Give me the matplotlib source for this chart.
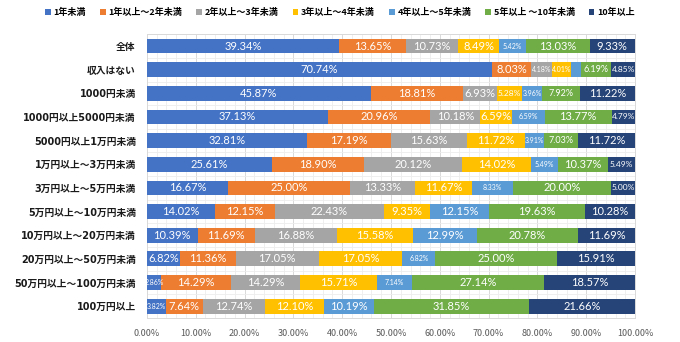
import numpy as np
import matplotlib
matplotlib.use('Agg')
import matplotlib.pyplot as plt
from matplotlib.ticker import MultipleLocator, FuncFormatter

plt.rcParams['font.family'] = ['Noto Sans CJK JP', 'DejaVu Sans']

categories = ['全体', '収入はない', '1000円未満', '1000円以上5000円未満', '5000円以上1万円未満',
              '1万円以上～3万円未満', '3万円以上～5万円未満', '5万円以上～10万円未満',
              '10万円以上～20万円未満', '20万円以上～50万円未満', '50万円以上～100万円未満', '100万円以上']
series_names = ['1年未満', '1年以上～2年未満', '2年以上～3年未満', '3年以上～4年未満',
                '4年以上～5年未満', '5年以上 ～10年未満', '10年以上']

less_1y = [39.34, 70.74, 45.87, 37.13, 32.81, 25.61, 16.67, 14.02, 10.39, 6.82, 2.86, 3.82]
y1_2 = [13.65, 8.03, 18.81, 20.96, 17.19, 18.90, 25.00, 12.15, 11.69, 11.36, 14.29, 7.64]
y2_3 = [10.73, 4.18, 6.93, 10.18, 15.63, 20.12, 13.33, 22.43, 16.88, 17.05, 14.29, 12.74]
y3_4 = [8.49, 4.01, 5.28, 6.59, 11.72, 14.02, 11.67, 9.35, 15.58, 17.05, 15.71, 12.10]
y4_5 = [5.42, 2.00, 3.96, 6.59, 3.91, 5.49, 8.33, 12.15, 12.99, 6.82, 7.14, 10.19]
y5_10 = [13.03, 6.19, 7.92, 13.77, 7.03, 10.37, 20.00, 19.63, 20.78, 25.00, 27.14, 31.85]
over_10y = [9.33, 4.85, 11.22, 4.79, 11.72, 5.49, 5.00, 10.28, 11.69, 15.91, 18.57, 21.66]

series = [less_1y, y1_2, y2_3, y3_4, y4_5, y5_10, over_10y]
colors = ['#4472C4', '#ED7D31', '#A5A5A5', '#FFC000', '#5B9BD5', '#70AD47', '#264478']

fig = plt.figure(figsize=(6.8, 3.42), dpi=100)
ax = fig.add_axes([0.216, 0.07, 0.718, 0.83])

y = np.arange(len(categories))
left = np.zeros(len(categories))
for i, (vals, name, c) in enumerate(zip(series, series_names, colors)):
    vals = np.array(vals)
    ax.barh(y, vals, left=left, height=0.63, color=c, label=name, zorder=3)
    for j, v in enumerate(vals):
        # 収入はない の4-5年は元図でラベルなし
        if i == 4 and j == 1:
            continue
        # 細いセグメントは小さい文字
        if (i == 4 and v < 10) or v < 4.5:
            fs = 5
        elif v < 6:
            fs = 6
        elif i == 5 and v < 8:
            fs = 6.5
        else:
            fs = 8
        ax.text(left[j] + v / 2, y[j], f'{v:.2f}%', ha='center', va='center',
                color='white', fontsize=fs, family=['Lato', 'DejaVu Sans'], zorder=4)
    left += vals

ax.set_xlim(0, 100)
ax.set_ylim(len(categories) - 0.5, -0.5)
ax.set_yticks(y)
ax.set_yticklabels(categories, fontsize=7, fontweight='bold', color='#1a1a1a',
                   family=['DejaVu Sans', 'Noto Sans CJK JP'])
ax.xaxis.set_major_locator(MultipleLocator(10))
ax.xaxis.set_minor_locator(MultipleLocator(2))
ax.yaxis.set_minor_locator(MultipleLocator(0.25))
ax.xaxis.set_major_formatter(FuncFormatter(lambda v, p: f'{v:.2f}%'))
ax.tick_params(axis='x', labelsize=6.5, colors='#595959', length=0, pad=8)
ax.tick_params(axis='y', length=0, pad=8, which='both')
ax.tick_params(axis='x', which='minor', length=0)
ax.grid(which='major', color='#D9D9D9', linewidth=0.7, zorder=0)
ax.grid(which='minor', color='#EDEDED', linewidth=0.6, zorder=0)
for s in ax.spines.values():
    s.set_color('#D9D9D9')
    s.set_linewidth(0.7)

leg = fig.legend(loc='upper center', bbox_to_anchor=(0.5, 1.0), ncol=7, frameon=False,
                 fontsize=6.5, handlelength=0.6, handleheight=0.6, handletextpad=0.3,
                 columnspacing=1.6)
for t in leg.get_texts():
    t.set_fontweight('bold')

fig.savefig('out.png', dpi=100)
